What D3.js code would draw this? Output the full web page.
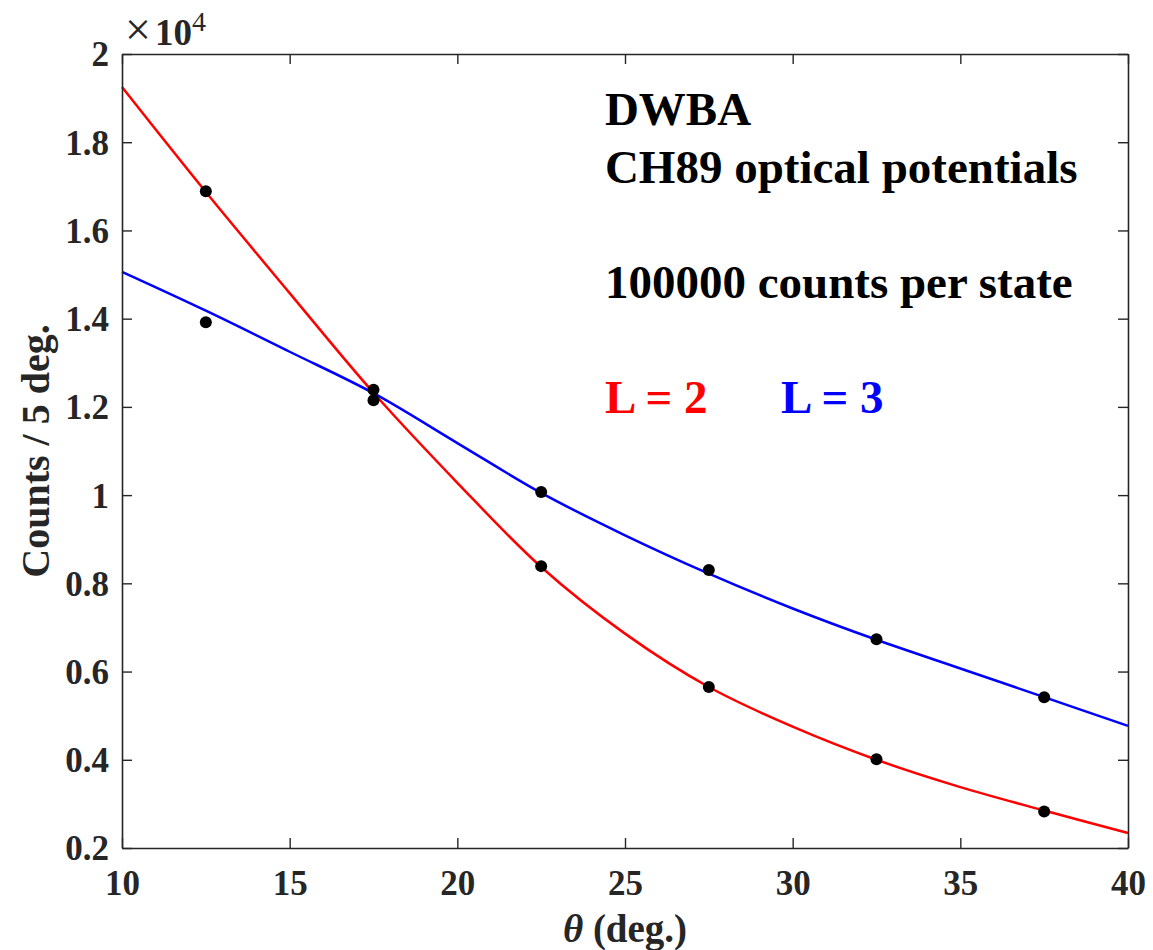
<!DOCTYPE html>
<html>
<head>
<meta charset="utf-8">
<script src="https://cdn.jsdelivr.net/npm/d3@7"></script>
<style>
  html, body { margin: 0; padding: 0; background: #fff; }
  svg text { font-family: "Liberation Serif", "Times New Roman", serif; font-weight: bold; }
</style>
</head>
<body>
<div id="chart"></div>
<script>
// angles of the data points (deg.)
const pointAngles = [12.5, 17.5, 22.5, 27.5, 32.5, 37.5];
// counts / 5 deg, in units of 1e4
const countsL2 = [1.689, 1.215, 0.839, 0.565, 0.401, 0.283];
const countsL3 = [1.392, 1.239, 1.007, 0.830, 0.673, 0.542];

// DWBA curves
const curveAngles = [10, 12.5, 15, 17.5, 20, 22.5, 25, 27.5, 30, 32.5, 35, 37.5, 40];
const curveL2 = [1.925, 1.687, 1.458, 1.232, 1.028, 0.837, 0.686, 0.565, 0.475, 0.400, 0.338, 0.285, 0.234];
const curveL3 = [1.506, 1.418, 1.325, 1.231, 1.118, 1.005, 0.909, 0.822, 0.743, 0.672, 0.607, 0.542, 0.477];

const xTicks = [10, 15, 20, 25, 30, 35, 40];
const yTicks = [0.2, 0.4, 0.6, 0.8, 1, 1.2, 1.4, 1.6, 1.8, 2];

const noteLines = ["DWBA", "CH89 optical potentials", "", "100000 counts per state"];

const W = 1153, H = 950;
const margin = { top: 54, right: 25, bottom: 102, left: 122 };
const iw = W - margin.left - margin.right;
const ih = H - margin.top - margin.bottom;
const axisColor = "#262626";

const svg = d3.select("#chart").append("svg")
  .attr("width", W)
  .attr("height", H);

const g = svg.append("g")
  .attr("transform", `translate(${margin.left},${margin.top})`);

const x = d3.scaleLinear().domain([10, 40]).range([0, iw]);
const y = d3.scaleLinear().domain([0.2, 2]).range([ih, 0]);

// curves
const line = d3.line()
  .x((d, i) => x(curveAngles[i]))
  .y(d => y(d))
  .curve(d3.curveCatmullRom.alpha(0.5));

g.append("path").datum(curveL2)
  .attr("d", line)
  .attr("fill", "none")
  .attr("stroke", "#ff0000")
  .attr("stroke-width", 2.5);

g.append("path").datum(curveL3)
  .attr("d", line)
  .attr("fill", "none")
  .attr("stroke", "#0000ff")
  .attr("stroke-width", 2.5);

// data points
[countsL2, countsL3].forEach(vals => {
  g.selectAll(null).data(vals).enter().append("circle")
    .attr("cx", (d, i) => x(pointAngles[i]))
    .attr("cy", d => y(d))
    .attr("r", 6)
    .attr("fill", "#000");
});

// axes, box style with inward ticks
const fmt = d => String(+d.toFixed(1));
const tickLen = 10;

const xAxis = g.append("g")
  .attr("transform", `translate(0,${ih})`)
  .call(d3.axisBottom(x).tickValues(xTicks).tickFormat(fmt).tickSizeInner(-tickLen).tickSizeOuter(0).tickPadding(22));
const xTop = g.append("g")
  .call(d3.axisTop(x).tickValues(xTicks).tickFormat("").tickSizeInner(-tickLen).tickSizeOuter(0));
const yAxis = g.append("g")
  .call(d3.axisLeft(y).tickValues(yTicks).tickFormat(fmt).tickSizeInner(-tickLen).tickSizeOuter(0).tickPadding(13));
const yRight = g.append("g")
  .attr("transform", `translate(${iw},0)`)
  .call(d3.axisRight(y).tickValues(yTicks).tickFormat("").tickSizeInner(-tickLen).tickSizeOuter(0));

[xAxis, xTop, yAxis, yRight].forEach(a => {
  a.select(".domain").attr("stroke", axisColor).attr("stroke-width", 1.6);
  a.selectAll(".tick line").attr("stroke", axisColor).attr("stroke-width", 1.4);
  a.selectAll(".tick text")
    .attr("fill", axisColor)
    .style("font-size", "35px")
    .style("font-family", "'Liberation Serif', serif")
    .style("font-weight", "bold");
});
yAxis.selectAll(".tick text").attr("dy", "0.34em");

// exponent label
const expo = svg.append("text")
  .attr("x", margin.left + 3)
  .attr("y", 45)
  .attr("fill", axisColor)
  .style("font-size", "37px");
expo.append("tspan").text("×").style("font-weight", "normal").style("font-size", "46px");
expo.append("tspan").text("10").attr("dx", 4);
expo.append("tspan").text("4").attr("dy", -14).style("font-size", "28px").style("font-weight", "normal");

// axis labels
const xl = svg.append("text")
  .attr("x", margin.left + iw / 2)
  .attr("y", 942)
  .attr("text-anchor", "middle")
  .attr("fill", axisColor)
  .style("font-size", "39px");
xl.append("tspan").text("θ").style("font-style", "italic");
xl.append("tspan").text(" (deg.)");

svg.append("text")
  .attr("transform", `translate(49,${margin.top + ih / 2}) rotate(-90)`)
  .attr("text-anchor", "middle")
  .attr("fill", axisColor)
  .style("font-size", "40px")
  .text("Counts / 5 deg.");

// annotations
const notes = g.append("g").attr("transform", `translate(${x(24.4)},0)`);
notes.selectAll("text").data(noteLines).enter().append("text")
  .attr("x", 0)
  .attr("y", (d, i) => 71 + i * 57.5)
  .attr("fill", "#000")
  .style("font-size", "47px")
  .text(d => d);

notes.append("text")
  .attr("x", 0).attr("y", 359)
  .attr("fill", "#ff0000")
  .style("font-size", "47px")
  .text("L = 2");
notes.append("text")
  .attr("x", 176).attr("y", 359)
  .attr("fill", "#0000ff")
  .style("font-size", "47px")
  .text("L = 3");
</script>
</body>
</html>
